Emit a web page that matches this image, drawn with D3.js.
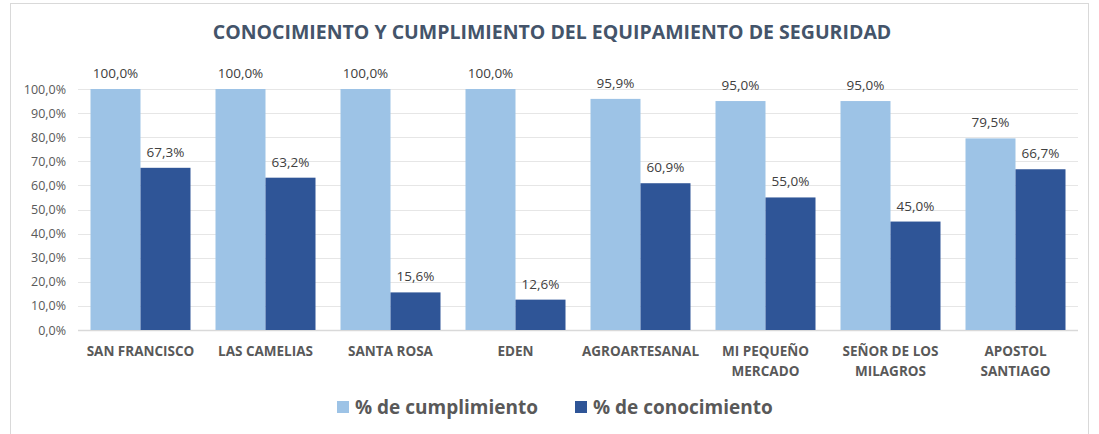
<!DOCTYPE html>
<html>
<head>
<meta charset="utf-8">
<script src="https://cdn.jsdelivr.net/npm/d3@7"></script>
<style>
  body { margin: 0; background: #fff; }
  text { font-family: "Open Sans", "Liberation Sans", sans-serif; }
</style>
</head>
<body>
<div id="main"></div>
<script>
var categories = [
  ['SAN FRANCISCO'], ['LAS CAMELIAS'], ['SANTA ROSA'], ['EDEN'],
  ['AGROARTESANAL'], ['MI PEQUEÑO', 'MERCADO'], ['SEÑOR DE LOS', 'MILAGROS'], ['APOSTOL', 'SANTIAGO']
]
var cumplimiento = [100.0, 100.0, 100.0, 100.0, 95.9, 95.0, 95.0, 79.5]
var conocimiento = [67.3, 63.2, 15.6, 12.6, 60.9, 55.0, 45.0, 66.7]
var seriesNames = ['% de cumplimiento', '% de conocimiento']
var seriesColors = ['#9dc3e6', '#2f5597']
var yTicks = [0, 10, 20, 30, 40, 50, 60, 70, 80, 90, 100]

var fmt = v => v.toFixed(1).replace('.', ',') + '%'

var svg = d3.select('#main')
  .append('svg')
  .attr('width', 1099)
  .attr('height', 434)

svg.append('rect')
  .attr('x', 10.5).attr('y', 3.5)
  .attr('width', 1078).attr('height', 440)
  .attr('fill', '#fff')
  .attr('stroke', '#d9d9d9')

svg.append('text')
  .text('CONOCIMIENTO Y CUMPLIMIENTO DEL EQUIPAMIENTO DE SEGURIDAD')
  .attr('x', 552).attr('y', 39)
  .attr('text-anchor', 'middle')
  .attr('font-size', 19.5)
  .attr('font-weight', 'bold')
  .attr('fill', '#44546a')

var x = d3.scaleBand()
  .domain(d3.range(categories.length))
  .range([78, 1078])
  .paddingInner(0.2)
  .paddingOuter(0.1)

var xs = d3.scaleBand()
  .domain([0, 1])
  .range([0, x.bandwidth()])

var y = d3.scaleLinear()
  .domain([0, 100])
  .range([330, 89])

// gridlines
svg.append('g')
  .selectAll('line')
  .data(yTicks)
  .enter()
  .append('line')
  .attr('x1', 78).attr('x2', 1078)
  .attr('y1', d => Math.round(y(d)) + 0.5)
  .attr('y2', d => Math.round(y(d)) + 0.5)
  .attr('stroke', d => d === 0 ? '#d9d9d9' : '#e6e6e6')
  .attr('stroke-width', d => d === 0 ? 1.5 : 1)

svg.append('g')
  .selectAll('text')
  .data(yTicks)
  .enter()
  .append('text')
  .text(d => fmt(d))
  .attr('x', 66)
  .attr('y', d => y(d) + 4.5)
  .attr('text-anchor', 'end')
  .attr('font-size', 12.5)
  .attr('fill', '#595959')

var series = [cumplimiento, conocimiento]

series.forEach(function (vals, s) {
  var g = svg.append('g')
  g.selectAll('rect')
    .data(vals)
    .enter()
    .append('rect')
    .attr('x', (_, i) => x(i) + xs(s))
    .attr('width', xs.bandwidth())
    .attr('y', d => y(d))
    .attr('height', d => y(0) - y(d))
    .attr('fill', seriesColors[s])

  g.selectAll('text')
    .data(vals)
    .enter()
    .append('text')
    .text(d => fmt(d))
    .attr('x', (_, i) => x(i) + xs(s) + xs.bandwidth() / 2)
    .attr('y', d => y(d) - 11)
    .attr('text-anchor', 'middle')
    .attr('font-size', 13.5)
    .attr('fill', '#404040')
})

// category labels
var cat = svg.append('g')
  .selectAll('text')
  .data(categories)
  .enter()
  .append('text')
  .attr('x', (_, i) => x(i) + x.bandwidth() / 2)
  .attr('y', 356)
  .attr('text-anchor', 'middle')
  .attr('font-size', 13.5)
  .attr('font-weight', 'bold')
  .attr('fill', '#595959')

cat.selectAll('tspan')
  .data(d => d)
  .enter()
  .append('tspan')
  .attr('x', function () { return this.parentNode.getAttribute('x') })
  .attr('dy', (_, j) => j === 0 ? 0 : 19.5)
  .text(d => d)

// legend
var legendX = [337, 575]
var legend = svg.append('g')
  .selectAll('g')
  .data(seriesNames)
  .enter()
  .append('g')
  .attr('transform', (_, i) => `translate(${legendX[i]}, 401)`)

legend.append('rect')
  .attr('width', 12).attr('height', 12)
  .attr('fill', (_, i) => seriesColors[i])

legend.append('text')
  .text(d => d)
  .attr('x', 18).attr('y', 13)
  .attr('font-size', 19)
  .attr('font-weight', 'bold')
  .attr('fill', '#595959')
</script>
</body>
</html>
